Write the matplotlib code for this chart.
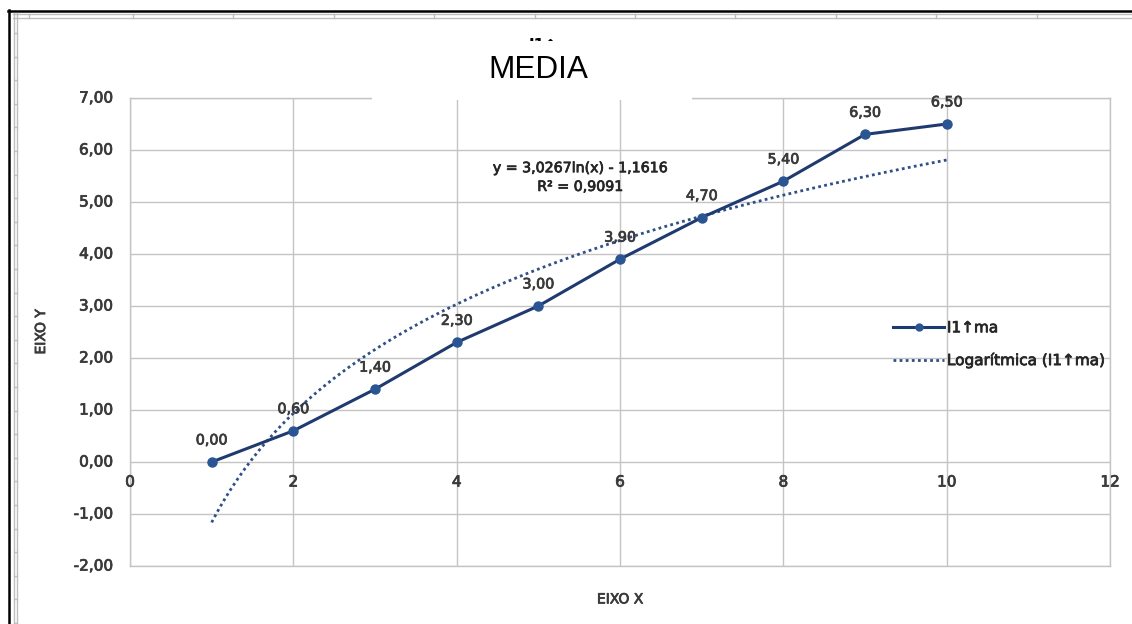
import numpy as np
import matplotlib
matplotlib.use("Agg")
import matplotlib.pyplot as plt
import matplotlib.patheffects as pe
from matplotlib.lines import Line2D
from matplotlib.patches import Rectangle
from matplotlib.transforms import Bbox

# Measured means
x_vals = [1, 2, 3, 4, 5, 6, 7, 8, 9, 10]
y_vals = [0.00, 0.60, 1.40, 2.30, 3.00, 3.90, 4.70, 5.40, 6.30, 6.50]

# Logarithmic trend line coefficients: y = a*ln(x) + b
trend_a = 3.0267
trend_b = -1.1616
trend_r2 = 0.9091

series_name = "I1\u2191ma"
x_ticks = [0, 2, 4, 6, 8, 10, 12]
y_ticks = [-2, -1, 0, 1, 2, 3, 4, 5, 6, 7]

LINE_COLOR = "#1F3A6E"
MARKER_COLOR = "#2B5592"
TREND_COLOR = "#2F4F86"
GRID_COLOR = "#C4C4C4"
TEXT_COLOR = "#3A3A3A"
FONT = ["DejaVu Sans"]


def heavy(color):
    # slightly thickened glyph strokes
    return [pe.withStroke(linewidth=0.55, foreground=color)]


W, H = 1132, 624
fig = plt.figure(figsize=(W / 100, H / 100), dpi=100)
fig.patch.set_facecolor("white")


def fx(px):
    return px / W


def fy(py):
    return 1 - py / H


# Sheet borders around the chart object
fig.add_artist(Line2D([fx(8), fx(W)], [fy(10.5), fy(10.5)], color="black", lw=1.8))
fig.add_artist(Line2D([fx(9), fx(9)], [fy(10), fy(H)], color="black", lw=1.8))
for yy in (13.5, 17.5):
    fig.add_artist(Line2D([fx(13), fx(W)], [fy(yy), fy(yy)], color="#BDBDBD", lw=1.0))
for xx in (13.5, 16.5):
    fig.add_artist(Line2D([fx(xx), fx(xx)], [fy(13), fy(H)], color="#BDBDBD", lw=1.0))
for xx in [29] + list(np.arange(133, W, 100.4)):
    fig.add_artist(Line2D([fx(xx), fx(xx)], [fy(13.5), fy(17.5)], color="#BDBDBD", lw=1.0))
for yy in np.arange(33, H, 23.6):
    fig.add_artist(Line2D([fx(13.5), fx(16.5)], [fy(yy), fy(yy)], color="#BDBDBD", lw=1.0))

# Plot area
left, right, top, bottom = 130, 1110, 98, 566
ax = fig.add_axes([fx(left), fy(bottom), fx(right - left), fy(top) - fy(bottom)])
ax.set_xlim(0, 12)
ax.set_ylim(-2, 7)
ax.set_xticks(x_ticks)
ax.set_yticks(y_ticks)
ax.grid(True, color=GRID_COLOR, lw=1.0)
ax.set_axisbelow(True)
for s in ax.spines.values():
    s.set_color(GRID_COLOR)
    s.set_linewidth(1.0)
ax.tick_params(length=0, labelbottom=False, labelleft=False)

# Y tick labels with comma decimals
for v in y_ticks:
    ax.text(-0.21, v, f"{v:.2f}".replace(".", ","), ha="right", va="center",
            fontsize=11, color=TEXT_COLOR, family=FONT, path_effects=heavy(TEXT_COLOR))
# X tick labels placed along the zero line
for v in x_ticks:
    ax.text(v, -0.24, f"{v}", ha="center", va="top",
            fontsize=11, color=TEXT_COLOR, family=FONT, path_effects=heavy(TEXT_COLOR))

# Trend line
xt = np.linspace(x_vals[0], x_vals[-1], 200)
ax.plot(xt, trend_a * np.log(xt) + trend_b, color=TREND_COLOR, lw=2.0,
        linestyle=(0, (1, 1.2)), zorder=2)

# Data series
ax.plot(x_vals, y_vals, color=LINE_COLOR, lw=2.2, zorder=3)
ax.plot(x_vals, y_vals, "o", color=MARKER_COLOR, ms=6.5, zorder=4)

for xv, yv in zip(x_vals, y_vals):
    ax.text(xv, yv + 0.28, f"{yv:.2f}".replace(".", ","), ha="center", va="bottom",
            fontsize=10.3, color=TEXT_COLOR, family=FONT, path_effects=heavy(TEXT_COLOR))

# Trend equation
eq_color = "#262626"
ax.text(5.51, 5.65, f"y = {trend_a:.4f}ln(x) - {abs(trend_b):.4f}".replace(".", ","),
        ha="center", va="center", fontsize=10.2, color=eq_color, family=FONT,
        path_effects=heavy(eq_color))
ax.text(5.51, 5.29, f"R\u00b2 = {trend_r2:.4f}".replace(".", ","),
        ha="center", va="center", fontsize=10.2, color=eq_color, family=FONT,
        path_effects=heavy(eq_color))

ax.set_xlabel("EIXO X", fontsize=10, color=TEXT_COLOR, family=FONT, labelpad=19,
              path_effects=heavy(TEXT_COLOR))
ax.set_ylabel("EIXO Y", fontsize=10, color=TEXT_COLOR, family=FONT, labelpad=59,
              path_effects=heavy(TEXT_COLOR))

# Legend
handles = [
    Line2D([], [], color=LINE_COLOR, lw=2.2, marker="o", ms=5, markerfacecolor=MARKER_COLOR,
           markeredgecolor=MARKER_COLOR),
    Line2D([], [], color=TREND_COLOR, lw=2.0, linestyle=(0, (1, 1.2))),
]
leg = ax.legend(handles, [series_name, f"Logar\u00edtmica ({series_name})"],
                loc="center left", bbox_to_anchor=(0.765, 0.474),
                frameon=False, handlelength=3.3, handletextpad=0.2, labelspacing=1.1,
                borderpad=0.4, prop={"family": FONT, "size": 11})
for t in leg.get_texts():
    t.set_color(eq_color)
    t.set_path_effects(heavy(eq_color))

# Title with its white backing box
fig.add_artist(Rectangle((fx(372), fy(100)), fx(692 - 372), fy(48) - fy(100),
                         facecolor="white", edgecolor="none", zorder=5))
fig.text(fx(538), fy(70), "MEDIA", ha="center", va="center", fontsize=22.7,
         family="Liberation Sans", color="black", zorder=6)
peek = fig.text(fx(556), fy(46), series_name, ha="center", va="center", fontsize=11,
                family=FONT, color="black", zorder=4, fontweight="bold")
peek.set_clip_box(Bbox.from_extents(372, H - 41, 692, H - 37))
peek.set_clip_on(True)

fig.savefig("out.png", dpi=100, facecolor="white")
